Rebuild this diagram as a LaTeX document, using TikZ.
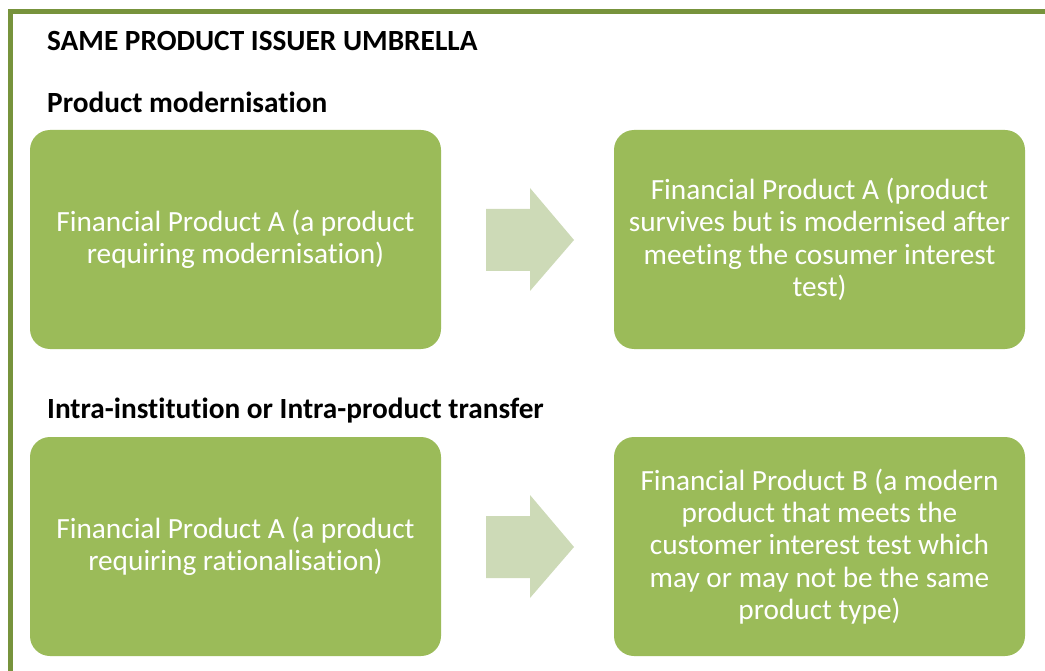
\documentclass[tikz,border=0pt]{standalone}
\usepackage{fontspec}
\setmainfont{Carlito}[Ligatures={NoCommon}]
\definecolor{frameGreen}{HTML}{77933C}
\definecolor{boxGreen}{HTML}{9BBB59}
\definecolor{arrowGreen}{HTML}{CDDAB7}
\begin{document}
\begin{tikzpicture}[x=1pt,y=-1pt]
				\tikzstyle{Box} = [rectangle, rounded corners=20, fill=boxGreen, text=white, minimum width=411, minimum height=219, inner sep=0pt, align=center, font=\fontsize{29.3}{32.4}\selectfont]
				\tikzstyle{Heading} = [anchor=base west, inner sep=0pt, font=\fontsize{29.3}{32}\selectfont\bfseries]
				\tikzstyle{BigArrow} = [fill=arrowGreen]
				\useasboundingbox (0,0) rectangle (1045,671);
				\draw [frameGreen, line width=5] (10.5,671) -- (10.5,11.5) -- (1045,11.5);
				\node (title) at (47,51) [Heading] {SAME PRODUCT ISSUER UMBRELLA};
				\node (mod) at (47,113) [Heading] {Product modernisation};
				\node (transfer) at (47,418) [Heading] {Intra-institution or Intra-product transfer};
				\node (A1) at (235.5,239.5) [Box] {Financial Product A (a product\\requiring modernisation)};
				\node (A2) at (819.5,239.5) [Box] {Financial Product A (product\\survives but is modernised after\\meeting the cosumer interest\\test)};
				\node (B1) at (235.5,546.5) [Box] {Financial Product A (a product\\requiring rationalisation)};
				\node (B2) at (819.5,546.5) [Box] {Financial Product B (a modern\\product that meets the\\customer interest test which\\may or may not be the same\\product type)};
				\fill [BigArrow] (486,209) -- (530,209) -- (530,188) -- (574,240) -- (530,291) -- (530,271) -- (486,271) -- cycle;
				\fill [BigArrow] (486,516) -- (530,516) -- (530,495) -- (574,547) -- (530,598) -- (530,578) -- (486,578) -- cycle;
			\end{tikzpicture}
\end{document}
